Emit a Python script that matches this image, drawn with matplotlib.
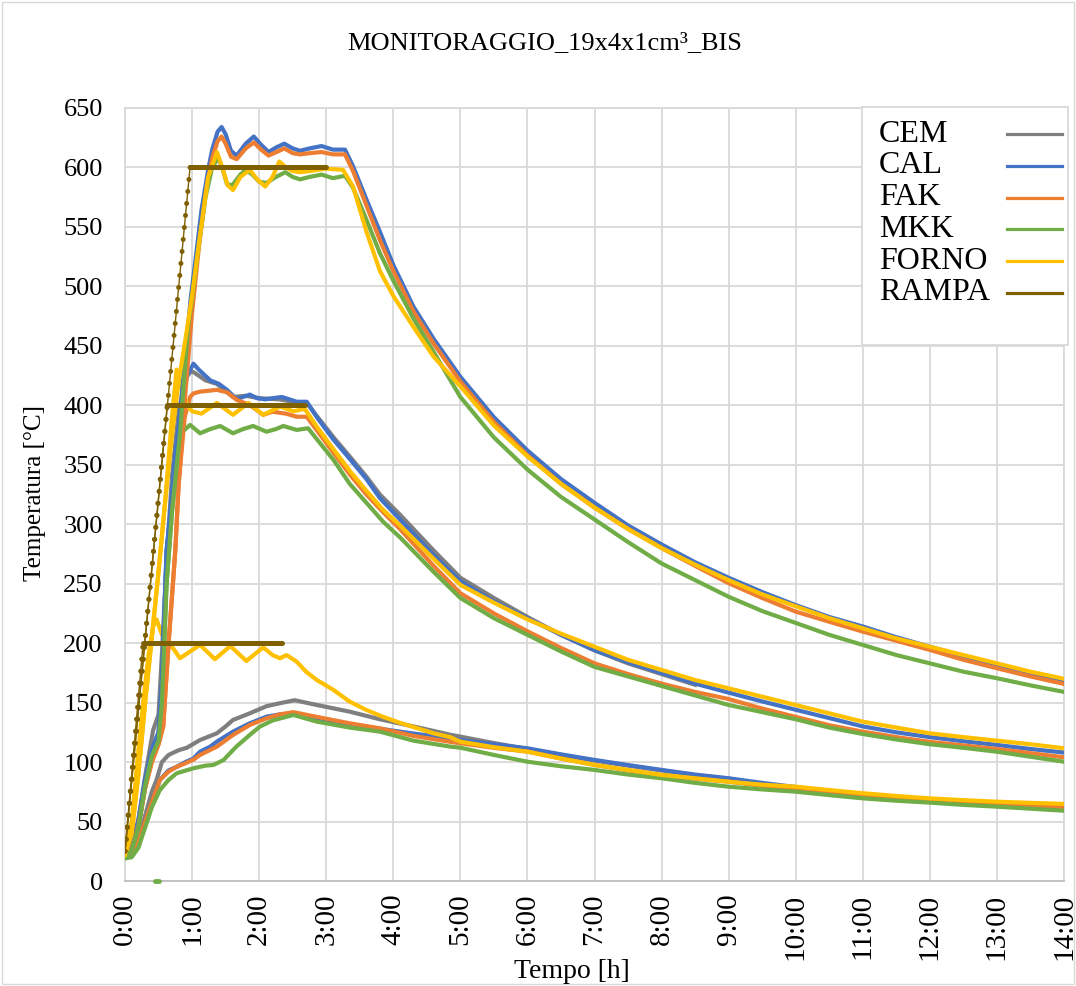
import matplotlib.pyplot as plt
from matplotlib.lines import Line2D
from matplotlib.patches import Rectangle

plt.rcParams['font.family'] = ['Liberation Serif', 'DejaVu Serif']

### data: (time [h], temperature [C]) ###

# --- prova 200 C ---
cem_200 = [(0, 20), (0.1, 24), (0.2, 35), (0.3, 55), (0.4, 75), (0.47, 85), (0.55, 100), (0.65, 106),
           (0.8, 110), (0.92, 112), (1.12, 118.6), (1.37, 124.2), (1.5, 130), (1.61, 135.4), (1.86, 141),
           (2.11, 147), (2.31, 149.5), (2.53, 152), (2.86, 148), (3.35, 142.4), (3.8, 136), (4.3, 130),
           (4.85, 123), (5.0, 121.4), (5.5, 116), (6.0, 111), (6.5, 106), (7.0, 101.3), (7.5, 97),
           (8.0, 93), (8.5, 89), (9.0, 86)]
cal_200 = [(0, 22), (0.1, 24), (0.2, 33), (0.3, 50), (0.4, 65), (0.52, 85), (0.65, 93), (0.77, 96),
           (0.9, 100), (1.02, 103), (1.12, 108.8), (1.27, 113), (1.37, 117.2), (1.61, 125.6), (1.86, 132.6),
           (2.11, 138.2), (2.3, 140), (2.51, 141), (2.86, 136.8), (3.35, 131.2), (3.8, 128), (4.3, 124),
           (4.85, 120), (5.0, 118.6), (5.5, 115), (6.0, 111.6), (6.5, 106.5), (7.0, 101.8), (7.5, 97.5),
           (8.0, 93.4), (8.5, 89.5), (9.0, 86.4), (9.5, 82.5), (10.0, 79), (10.5, 75.5), (11.0, 72.3),
           (11.5, 70), (12.0, 68), (12.5, 66), (13.0, 64.5), (13.5, 63), (14.0, 62)]
fak_200 = [(0, 22), (0.1, 24), (0.2, 33), (0.3, 50), (0.4, 66), (0.52, 85), (0.65, 92), (0.77, 96),
           (0.9, 99), (1.02, 102), (1.12, 106), (1.37, 113), (1.61, 122.8), (1.86, 131.2), (2.11, 136.8),
           (2.3, 140), (2.51, 142), (2.86, 138), (3.35, 132.6), (3.8, 128.4), (4.3, 122), (4.85, 117),
           (5.0, 115.8), (5.5, 112), (6.0, 108.8), (6.5, 103), (7.0, 97.6), (7.5, 93), (8.0, 89.2),
           (8.5, 86), (9.0, 83.5), (9.5, 80), (10.0, 77), (10.5, 74.5), (11.0, 72.3), (11.5, 70),
           (12.0, 68.1), (12.5, 66.5), (13.0, 64.8), (13.5, 63.5), (14.0, 62)]
mkk_200 = [(0, 19), (0.1, 20), (0.2, 28), (0.3, 45), (0.4, 62), (0.52, 76.5), (0.65, 85), (0.77, 90.6),
           (1.02, 94.8), (1.2, 97), (1.32, 97.6), (1.47, 101.8), (1.66, 113), (1.86, 122.8), (2.01, 129.8),
           (2.2, 135), (2.51, 139.6), (2.86, 134), (3.35, 129), (3.8, 125.6), (4.3, 118), (4.85, 113),
           (5.0, 112.1), (5.5, 106), (6.0, 100.3), (6.5, 96.5), (7.0, 93.4), (7.5, 89.5), (8.0, 86.4),
           (8.5, 82.5), (9.0, 79.3), (9.5, 77), (10.0, 75.1), (10.5, 72.2), (11.0, 69.5), (11.5, 67.5),
           (12.0, 65.9), (12.5, 64), (13.0, 62.5), (13.5, 60.8), (14.0, 59.1)]
mkk_200_glitch = [(0.44, 0), (0.5, 0)]
forno_200 = [(0, 22), (0.1, 50), (0.2, 110), (0.27, 150), (0.35, 190), (0.42, 214), (0.47, 220),
             (0.52, 212), (0.6, 200), (0.7, 197), (0.82, 187.3), (0.97, 193), (1.12, 198.5), (1.34, 186.5),
             (1.57, 197.6), (1.81, 185), (2.06, 196.5), (2.2, 190), (2.31, 187.3), (2.41, 190), (2.56, 184.4),
             (2.7, 176), (2.86, 169), (3.11, 160.6), (3.35, 150.8), (3.6, 143.8), (3.85, 138), (4.1, 133),
             (4.6, 124.2), (4.85, 120.9), (5.0, 117.2), (5.5, 112.5), (6.0, 108.8), (6.5, 103), (7.0, 97.6),
             (7.5, 93.4), (8.0, 89.2), (8.5, 86.4), (9.0, 83.5), (9.5, 81), (10.0, 79.3), (10.5, 76.5),
             (11.0, 73.8), (11.5, 71.5), (12.0, 69.5), (12.5, 68), (13.0, 66.7), (13.5, 65.7), (14.0, 64.8)]
rampa_200 = [(0, 25), (0.27, 200), (2.34, 200)]

# --- prova 400 C ---
cem_400 = [(0, 21), (0.1, 28), (0.2, 52), (0.3, 88), (0.42, 127), (0.5, 140), (0.55, 190), (0.62, 270),
           (0.7, 340), (0.8, 395), (0.9, 422), (0.97, 428), (1.02, 428), (1.2, 421), (1.37, 418),
           (1.61, 407), (1.8, 408), (2.0, 406), (2.3, 405), (2.6, 402), (2.71, 402), (2.86, 391),
           (3.11, 373), (3.35, 357), (3.6, 340), (3.8, 325), (4.1, 308), (4.6, 278), (5.0, 255),
           (5.5, 238), (6.0, 222), (6.5, 207), (7.0, 194), (7.5, 183), (8.0, 174), (8.5, 165)]
cal_400 = [(0, 22), (0.1, 28), (0.2, 50), (0.3, 85), (0.4, 110), (0.5, 125), (0.55, 165), (0.62, 278),
           (0.67, 306), (0.75, 360), (0.82, 390), (0.92, 424), (1.02, 435), (1.1, 430), (1.27, 421),
           (1.4, 418), (1.52, 413), (1.665, 405), (1.76, 407), (1.86, 409), (1.97, 406), (2.09, 405),
           (2.2, 406), (2.34, 407), (2.45, 405), (2.56, 403), (2.71, 403), (2.86, 390), (3.11, 371),
           (3.35, 355), (3.6, 338), (3.8, 322), (4.0, 310), (4.6, 274), (5.0, 252), (5.5, 235),
           (6.0, 221), (6.5, 207), (7.0, 194), (7.5, 184), (8.0, 175), (8.5, 166), (9.0, 158.4),
           (9.5, 151), (10.0, 144), (10.5, 137), (11.0, 130), (11.5, 125), (12.0, 121), (12.5, 117.5),
           (13.0, 114.4), (13.5, 111), (14.0, 108)]
fak_400 = [(0, 22), (0.1, 27), (0.2, 46), (0.3, 78), (0.4, 100), (0.5, 115), (0.57, 130), (0.65, 200),
           (0.75, 278), (0.8, 334), (0.89, 390), (0.97, 407), (1.02, 410), (1.12, 411.5), (1.37, 413),
           (1.52, 411), (1.665, 404.6), (1.86, 400.3), (2.06, 392), (2.2, 394.6), (2.4, 393), (2.56, 390.4),
           (2.71, 390.4), (2.86, 379), (3.11, 360), (3.35, 342), (3.6, 325), (3.85, 310), (4.1, 296),
           (4.6, 265), (5.0, 242), (5.5, 225), (6.0, 210), (6.5, 196), (7.0, 183), (7.5, 174),
           (8.0, 166), (8.5, 159), (9.0, 153), (9.5, 145), (10.0, 138), (10.5, 131), (11.0, 125.6),
           (11.5, 121), (12.0, 117), (12.5, 114), (13.0, 111), (13.5, 107.5), (14.0, 104)]
mkk_400 = [(0, 20), (0.1, 26), (0.2, 45), (0.3, 80), (0.4, 105), (0.5, 118), (0.55, 150), (0.62, 250),
           (0.7, 310), (0.82, 376), (0.97, 383.5), (1.12, 376.5), (1.27, 380), (1.42, 382.6), (1.61, 376.5),
           (1.76, 380), (1.91, 382.6), (2.11, 377.8), (2.25, 380), (2.36, 382.6), (2.56, 379.3),
           (2.73, 380.7), (2.91, 368), (3.11, 354), (3.35, 334), (3.6, 318), (3.85, 302), (4.1, 289),
           (4.6, 260), (5.0, 238), (5.5, 221), (6.0, 207), (6.5, 193), (7.0, 180), (7.5, 172), (8.0, 164),
           (8.5, 156), (9.0, 148), (9.5, 142), (10.0, 136), (10.5, 129), (11.0, 123.6), (11.5, 119),
           (12.0, 115), (12.5, 112), (13.0, 108.7), (13.5, 104.5), (14.0, 100.3)]
forno_400 = [(0, 22), (0.1, 40), (0.2, 90), (0.3, 150), (0.4, 205), (0.5, 260), (0.6, 320), (0.7, 390),
             (0.77, 430), (0.82, 418), (0.87, 413), (0.92, 400), (1.0, 395), (1.14, 393), (1.37, 402),
             (1.61, 392), (1.84, 402), (2.06, 392), (2.31, 399), (2.51, 395), (2.68, 397), (2.86, 382),
             (3.11, 363), (3.35, 345), (3.6, 328), (3.85, 312), (4.1, 299), (4.6, 271), (5.0, 249),
             (5.5, 234), (6.0, 220), (6.5, 208), (7.0, 197), (7.5, 186), (8.0, 177.5), (8.5, 169),
             (9.0, 162), (9.5, 155), (10.0, 148), (10.5, 141), (11.0, 134), (11.5, 129), (12.0, 124.2),
             (12.5, 121), (13.0, 118), (13.5, 115), (14.0, 111.6)]
rampa_400 = [(0, 25), (0.63, 400), (2.68, 400)]

# --- prova 600 C ---
cal_600 = [(0, 22), (0.1, 28), (0.2, 50), (0.3, 85), (0.4, 110), (0.5, 125), (0.55, 165), (0.62, 278),
           (0.67, 306), (0.77, 362), (0.88, 430), (0.98, 490), (1.07, 531), (1.14, 564), (1.24, 598),
           (1.3, 615), (1.38, 630), (1.44, 634), (1.5, 628), (1.58, 614), (1.665, 610), (1.8, 620),
           (1.92, 626), (2.03, 619), (2.14, 613), (2.26, 617), (2.375, 620), (2.5, 616), (2.61, 614),
           (2.75, 616), (2.93, 618), (3.1, 615), (3.28, 615), (3.4, 601), (3.6, 573), (3.8, 546),
           (4.0, 518), (4.3, 483), (4.6, 456), (5.0, 424), (5.5, 390), (6.0, 362), (6.5, 338),
           (7.0, 318), (7.5, 299), (8.0, 283), (8.5, 268), (9.0, 255), (9.5, 243), (10.0, 232),
           (10.5, 222), (11.0, 214), (11.5, 205), (12.0, 197), (12.5, 189), (13.0, 182), (13.5, 175),
           (14.0, 168)]
fak_600 = [(0, 22), (0.1, 27), (0.2, 46), (0.3, 78), (0.4, 100), (0.5, 115), (0.57, 130), (0.65, 200),
           (0.75, 278), (0.8, 334), (0.9, 410), (1.0, 478), (1.1, 532), (1.2, 578), (1.3, 608), (1.38, 622),
           (1.44, 626), (1.5, 620), (1.58, 609), (1.665, 607), (1.8, 616), (1.92, 621), (2.03, 615),
           (2.14, 610), (2.26, 613), (2.375, 616), (2.5, 612), (2.61, 611), (2.75, 612), (2.93, 613),
           (3.1, 611), (3.28, 611), (3.4, 597), (3.6, 568), (3.8, 539), (4.0, 513), (4.3, 479),
           (4.6, 452), (5.0, 420), (5.5, 386), (6.0, 358), (6.5, 334), (7.0, 314), (7.5, 296), (8.0, 280),
           (8.5, 265), (9.0, 250.4), (9.5, 238), (10.0, 226.5), (10.5, 218), (11.0, 209.7), (11.5, 202),
           (12.0, 194.3), (12.5, 186), (13.0, 178.9), (13.5, 172), (14.0, 165.7)]
mkk_600 = [(0, 20), (0.1, 26), (0.2, 45), (0.3, 80), (0.4, 105), (0.5, 118), (0.55, 150), (0.62, 250),
           (0.7, 310), (0.82, 376), (0.94, 466), (1.0, 490), (1.1, 535), (1.2, 575), (1.3, 600),
           (1.39, 608), (1.45, 600), (1.52, 586), (1.6, 585), (1.72, 594), (1.8, 598), (1.9, 594),
           (2.0, 588), (2.11, 587), (2.25, 592), (2.39, 596), (2.5, 592), (2.61, 590), (2.75, 592),
           (2.93, 594), (3.1, 591), (3.28, 593), (3.4, 583), (3.6, 556), (3.8, 528), (4.0, 505),
           (4.3, 473), (4.6, 445), (5.0, 407), (5.5, 373), (6.0, 346), (6.5, 323), (7.0, 304),
           (7.5, 285), (8.0, 267), (8.5, 253), (9.0, 239), (9.5, 227), (10.0, 217), (10.5, 207),
           (11.0, 198.5), (11.5, 190), (12.0, 183), (12.5, 176), (13.0, 170.5), (13.5, 164.5), (14.0, 159)]
forno_600 = [(0, 22), (0.1, 40), (0.2, 90), (0.3, 150), (0.4, 205), (0.5, 260), (0.6, 320), (0.7, 375),
             (0.8, 420), (0.9, 455), (1.0, 492), (1.1, 535), (1.24, 592), (1.37, 613), (1.45, 600),
             (1.53, 585), (1.61, 581), (1.72, 592), (1.86, 598), (1.97, 590), (2.09, 584), (2.2, 592),
             (2.3, 605), (2.4, 600), (2.5, 597), (2.61, 596), (2.75, 597), (3.0, 599), (3.25, 598),
             (3.4, 584), (3.6, 546), (3.8, 513), (4.0, 492), (4.3, 466), (4.6, 441), (5.0, 416),
             (5.5, 383), (6.0, 357), (6.5, 334), (7.0, 314), (7.5, 296), (8.0, 280), (8.5, 266),
             (9.0, 253), (9.5, 241), (10.0, 231), (10.5, 221), (11.0, 212.5), (11.5, 204), (12.0, 197),
             (12.5, 190), (13.0, 183), (13.5, 176), (14.0, 170)]
rampa_600 = [(0, 25), (0.97, 600), (3.0, 600)]

series_names = ['CEM', 'CAL', 'FAK', 'MKK', 'FORNO', 'RAMPA']
series_colors = ['#7f7f7f', '#4472c4', '#ed7d31', '#70ad47', '#ffc000', '#7f6000']
hours = list(range(0, 15))
hour_labels = [f"{h}:00" for h in hours]
y_ticks = list(range(0, 651, 50))

tests = [
    [cem_200, cal_200, fak_200, mkk_200, forno_200, rampa_200],
    [cem_400, cal_400, fak_400, mkk_400, forno_400, rampa_400],
    [None, cal_600, fak_600, mkk_600, forno_600, rampa_600],
]

W, H = 1076, 986
fig = plt.figure(figsize=(W / 100, H / 100), dpi=100)
ax = fig.add_axes([125 / W, 1 - 881 / H, (1064 - 125) / W, (881 - 108) / H])

for test in tests:
    for pts, name, col in zip(test, series_names, series_colors):
        if pts is None:
            continue
        t, T = zip(*pts)
        if name == 'RAMPA':
            ax.plot(t[:2], T[:2], color=col, lw=1.0, zorder=5)
            ax.plot(t[:2], T[:2], color=col, lw=3.6, ls=(0, (0.01, 2.4)),
                    dash_capstyle='round', zorder=5)
            ax.plot(t[1:], T[1:], color=col, lw=3.6, solid_capstyle='round', zorder=5)
        else:
            ax.plot(t, T, color=col, lw=3.0, solid_joinstyle='round', zorder=3)

gt, gT = zip(*mkk_200_glitch)
ax.plot(gt, gT, color=series_colors[3], lw=3.5, solid_capstyle='round', clip_on=False, zorder=3)

ax.set_xlim(0, 14)
ax.set_ylim(0, 650)
ax.set_xticks(hours)
ax.set_xticklabels(hour_labels, rotation=90)
ax.set_yticks(y_ticks)
ax.tick_params(length=0, labelsize=19)
ax.tick_params(axis='y', pad=16)
ax.tick_params(axis='x', pad=9, labelsize=21)
ax.grid(color='#d9d9d9', lw=1.3)
ax.set_axisbelow(True)
for s in ax.spines.values():
    s.set_color('#d9d9d9')
    s.set_linewidth(1.3)
ax.spines['bottom'].set_color('#bfbfbf')

fig.text(545 / W, 1 - 43 / H, 'MONITORAGGIO_19x4x1cm³_BIS', ha='center', va='center', fontsize=19)
fig.text(572 / W, 1 - 972 / H, 'Tempo [h]', ha='center', va='center', fontsize=20)
fig.text(35 / W, 1 - 493 / H, 'Temperatura [°C]', ha='center', va='center', rotation=90, fontsize=18)

# legend box, text first and line after
fig.add_artist(Rectangle((862 / W, 1 - 345 / H), 206 / W, 238 / H, transform=fig.transFigure,
                         facecolor='white', edgecolor='#d9d9d9', lw=1.3, zorder=10))
for i, (name, col) in enumerate(zip(series_names, series_colors)):
    y = 1 - (134 + 31.8 * i) / H
    fig.text(879 / W, y, name, ha='left', va='center', fontsize=23, zorder=11)
    fig.add_artist(Line2D([1007 / W, 1062 / W], [y, y], transform=fig.transFigure,
                          color=col, lw=2.3, zorder=11))

fig.add_artist(Rectangle((0.002, 0.002), 0.996, 0.996, transform=fig.transFigure,
                         facecolor='none', edgecolor='#d9d9d9', lw=1.0))

fig.savefig('out.png', dpi=100)
